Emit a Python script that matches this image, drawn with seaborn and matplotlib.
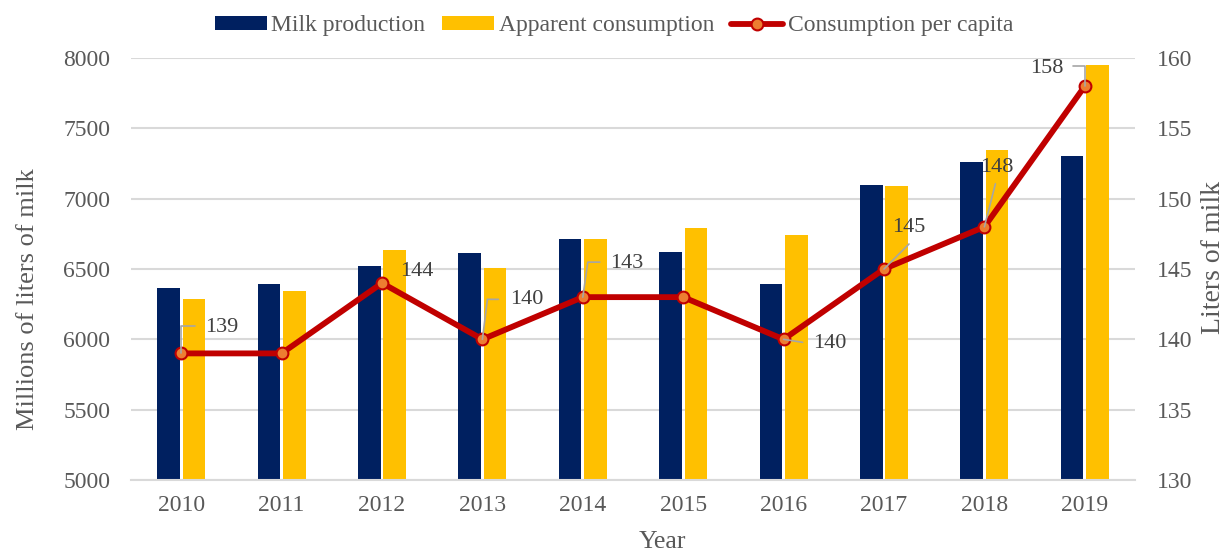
import matplotlib
matplotlib.use("Agg")
import matplotlib.pyplot as plt
import matplotlib.transforms as mtransforms
from matplotlib.patches import Patch
from matplotlib.lines import Line2D
import seaborn as sns
import pandas as pd

years = ["2010", "2011", "2012", "2013", "2014", "2015", "2016", "2017", "2018", "2019"]
milk_production = [6364, 6390, 6518, 6617, 6715, 6622, 6390, 7094, 7258, 7300]
apparent_consumption = [6285, 6347, 6634, 6506, 6715, 6795, 6741, 7092, 7348, 7952]
per_capita = [139, 139, 144, 140, 143, 143, 140, 145, 148, 158]
labelled = [True, False, True, True, True, False, True, True, True, True]

# label placement (pixels relative to the marker): text offset, leader path
label_style = {
    "2010": ((41, 26), [(0, 0), (0, 27), (14, 27)]),
    "2012": ((35, 12), None),
    "2013": ((44, 40), [(0, 0), (5, 40), (16, 40)]),
    "2014": ((44, 34), [(0, 0), (5, 35), (17, 35)]),
    "2016": ((46, -4), [(0, 0), (19, -3)]),
    "2017": ((25, 41), [(0, 0), (25, 25)]),
    "2018": ((12, 59), [(0, 0), (11, 43)]),
    "2019": ((-38, 18), [(0, 0), (0, 20), (-12, 20)]),
}

sns.set_style("white")
plt.rcParams["font.family"] = ["Liberation Serif", "DejaVu Serif"]

NAVY = "#002060"
YELLOW = "#FFC000"
RED = "#C00000"
ORANGE = "#ED7D31"
GRID = "#D9D9D9"
TXT = "#595959"

df = pd.DataFrame({
    "Year": years * 2,
    "value": milk_production + apparent_consumption,
    "series": ["Milk production"] * len(years) + ["Apparent consumption"] * len(years),
})

W, H = 1228, 552
DPI = 100
fig = plt.figure(figsize=(W / DPI, H / DPI), dpi=DPI)
ax = fig.add_axes([131 / W, 1 - 480 / H, (1135 - 131) / W, (480 - 58) / H])

sns.barplot(data=df, x="Year", y="value", hue="series",
            palette=[NAVY, YELLOW], width=0.508, gap=0.115,
            ax=ax, legend=False, saturation=1, edgecolor="none", zorder=2)

ax.set_ylim(5000, 8000)
ax.set_yticks([5000, 5500, 6000, 6500, 7000, 7500, 8000])
ax.set_xlim(-0.5, 9.5)
ax.grid(axis="y", color=GRID, linewidth=1.5, zorder=0)
ax.set_axisbelow(True)
for s in ["top", "left", "right"]:
    ax.spines[s].set_visible(False)
ax.spines["bottom"].set_color(GRID)
ax.spines["bottom"].set_linewidth(1.5)
ax.tick_params(axis="y", length=0, pad=15, labelsize=17, labelcolor=TXT)
ax.tick_params(axis="x", length=0, pad=11, labelsize=17, labelcolor=TXT)
ax.set_xlabel("")
ax.set_ylabel("")

ax2 = ax.twinx()
sns.pointplot(x=years, y=per_capita, ax=ax2, color=RED, linewidth=4.2,
              marker="o", markersize=8.5, markerfacecolor=ORANGE,
              markeredgecolor=RED, markeredgewidth=1.5, zorder=5)
ax2.set_xlim(-0.5, 9.5)
ax2.set_ylim(130, 160)
ax2.set_yticks([130, 135, 140, 145, 150, 155, 160])
for s in ax2.spines.values():
    s.set_visible(False)
ax2.tick_params(axis="y", length=0, pad=16, labelsize=17, labelcolor=TXT)
ax2.set_ylabel("")

# axis titles
fig.text(662 / W, 1 - 542 / H, "Year", fontsize=18.5, color=TXT, ha="center", va="center")
fig.text(28 / W, 1 - 299 / H, "Millions of liters of milk", fontsize=19, color=TXT,
         ha="center", va="center", rotation=90)
fig.text(1213 / W, 1 - 257 / H, "Liters of milk", fontsize=20, color=TXT,
         ha="center", va="center", rotation=90)

px = DPI / 72.0
inv = fig.transFigure.inverted()
for i, (yr, v) in enumerate(zip(years, per_capita)):
    if not labelled[i]:
        continue
    (tx, ty), path = label_style[yr]
    off = mtransforms.offset_copy(ax2.transData, fig=fig, x=tx / px, y=ty / px, units="points")
    ax2.text(i, v, str(v), transform=off, ha="center", va="center",
             fontsize=16, color="#404040", zorder=6)
    if path:
        pts = []
        for (dx, dy) in path:
            t = mtransforms.offset_copy(ax2.transData, fig=fig, x=dx / px, y=dy / px, units="points")
            pts.append(t.transform((i, v)))
        fpts = inv.transform(pts)
        fig.add_artist(Line2D(fpts[:, 0], fpts[:, 1], color="#A6A6A6", linewidth=1.2,
                              transform=fig.transFigure, zorder=4))

handles = [
    Patch(facecolor=NAVY, edgecolor="none", label="Milk production"),
    Patch(facecolor=YELLOW, edgecolor="none", label="Apparent consumption"),
    Line2D([0], [0], color=RED, linewidth=4.2, marker="o", markersize=8.5,
           markerfacecolor=ORANGE, markeredgecolor=RED, markeredgewidth=1.5,
           label="Consumption per capita"),
]
fig.legend(handles=handles, loc="center", bbox_to_anchor=(0.5, 1 - 26 / H), ncol=3,
           frameon=False, fontsize=17, handlelength=2.2, handleheight=0.5,
           handletextpad=0.2, columnspacing=0.72, labelcolor=TXT)

fig.savefig("out.png", dpi=DPI)
